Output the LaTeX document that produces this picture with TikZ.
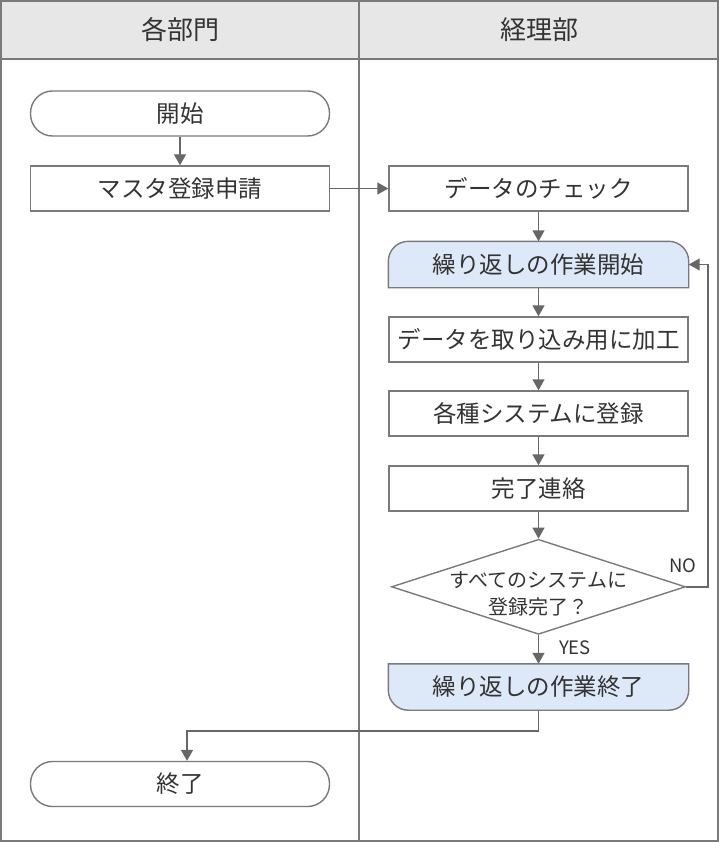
\documentclass[tikz,border=0pt]{standalone}
\usepackage{fontspec}
\setmainfont{Noto Sans CJK JP}
\usetikzlibrary{arrows.meta,shapes.geometric,backgrounds}
\definecolor{linec}{HTML}{7A7A7A}
\definecolor{arrowc}{HTML}{676767}
\definecolor{headfill}{HTML}{E7E7E7}
\definecolor{loopfill}{HTML}{DDE8F9}
\definecolor{txt}{HTML}{333333}
\tikzset{
  boxline/.style={draw=linec, line width=1.4pt},
  box/.style={boxline, rectangle, minimum width=299pt, minimum height=45pt, inner sep=0pt, text=txt, font=\fontsize{23.5}{28}\selectfont},
  term/.style={box, rounded corners=22pt},
  looptext/.style={box, draw=none},
  headtxt/.style={text=txt, font=\fontsize{26}{30}\selectfont},
  arr/.style={draw=arrowc, line width=1.4pt, -{Triangle[length=11pt,width=12pt]}},
  small/.style={text=txt, font=\fontsize{18.5}{22}\selectfont},
}
\begin{document}
\begin{tikzpicture}[x=1pt,y=-1pt]
\useasboundingbox (0,0) rectangle (719,842);
% header and frame
\fill[headfill] (1,1) rectangle (718,59);
\draw[linec, line width=1.8pt] (1,59) -- (718,59);
\draw[linec, line width=1.8pt] (1,1) rectangle (718,841);
\draw[linec, line width=1.8pt] (359,1) -- (359,841);
\node[headtxt] (h1) at (180,30) {各部門};
\node[headtxt] (h2) at (539,30) {経理部};
% left lane
\node[term] (start) at (180,113.5) {開始};
\node[box] (req) at (180,188.5) {マスタ登録申請};
\node[term] (fin) at (180,784) {終了};
% right lane
\node[box] (chk) at (538.5,188.5) {データのチェック};
\node[looptext] (loop1) at (538.5,264.5) {繰り返しの作業開始};
\node[box] (proc) at (538.5,339.5) {データを取り込み用に加工};
\node[box] (reg) at (538.5,413.5) {各種システムに登録};
\node[box] (done) at (538.5,488.5) {完了連絡};
\node[diamond, boxline, minimum width=294pt, minimum height=95pt, inner sep=0pt] (dec) at (538.5,586.8) {};
\node[text=txt, font=\fontsize{20}{27}\selectfont, align=center] (dectxt) at (538.5,594) {すべてのシステムに\\登録完了？};
\node[looptext] (loop2) at (538.5,687) {繰り返しの作業終了};
\begin{scope}[on background layer]
\draw[boxline, fill=loopfill] (loop1.south west) [rounded corners=20pt] -- (loop1.north west) -- (loop1.north east) [sharp corners] -- (loop1.south east) -- cycle;
\draw[boxline, fill=loopfill] (loop2.north west) [rounded corners=20pt] -- (loop2.south west) -- (loop2.south east) [sharp corners] -- (loop2.north east) -- cycle;
\end{scope}
% connectors
\draw[arr] (start) -- (req);
\draw[arr] (req) -- (chk);
\draw[arr] (chk) -- (loop1);
\draw[arr] (loop1) -- (proc);
\draw[arr] (proc) -- (reg);
\draw[arr] (reg) -- (done);
\draw[arr] (done) -- (dec.north);
\draw[arr] (dec.south) -- (loop2.north);
\coordinate (nr) at (708,586.8);
\draw[arr] (dec.east) -- (nr) |- (loop1.east);
\coordinate (bend) at (187,731);
\draw[arr] (loop2.south) |- (bend) -- (bend |- fin.north);
\node[small] (no) at (683,566) {NO};
\node[small] (yes) at (575,648) {YES};
\end{tikzpicture}
\end{document}
